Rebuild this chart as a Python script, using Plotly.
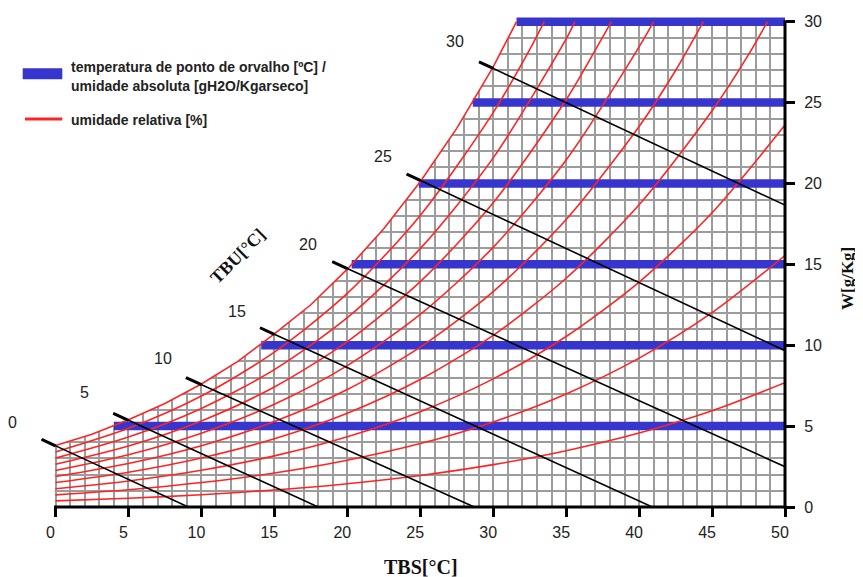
import plotly.graph_objects as go

# ---------------- data ----------------
# saturation curve (100 % relative humidity): dry bulb [°C] -> W [g/kg]
sat_T = [0, 2.5, 5, 7.5, 10, 12.5, 15, 17.5, 20, 22.5, 25, 27.5, 30, 31.6]
sat_W = [3.8, 4.5, 5.4, 6.4, 7.6, 9.0, 10.7, 12.5, 14.7, 17.2, 20.1, 23.4, 27.2, 30.0]

# relative humidity curves (10 % ... 90 %)
rh10_T = [0, 5, 10, 15, 20, 25, 30, 35, 40, 45, 50]
rh10_W = [0.38, 0.54, 0.76, 1.05, 1.44, 1.95, 2.62, 3.48, 4.57, 5.95, 7.68]
rh20_T = [0, 5, 10, 15, 20, 25, 30, 35, 40, 45, 50]
rh20_W = [0.75, 1.07, 1.51, 2.10, 2.89, 3.92, 5.26, 6.99, 9.20, 12.01, 15.54]
rh30_T = [0, 5, 10, 15, 20, 25, 30, 35, 40, 45, 50]
rh30_W = [1.13, 1.61, 2.27, 3.16, 4.34, 5.89, 7.92, 10.54, 13.90, 18.19, 23.61]
rh40_T = [0, 5, 10, 15, 20, 25, 30, 35, 40, 45, 47.5, 48.8]
rh40_W = [1.51, 2.15, 3.03, 4.22, 5.80, 7.88, 10.61, 14.14, 18.68, 24.49, 27.96, 30.0]
rh50_T = [0, 5, 10, 15, 20, 25, 30, 35, 40, 42.5, 44.4]
rh50_W = [1.88, 2.69, 3.79, 5.28, 7.26, 9.88, 13.31, 17.77, 23.52, 26.98, 30.0]
rh60_T = [0, 5, 10, 15, 20, 25, 30, 35, 40, 41.0]
rh60_W = [2.26, 3.23, 4.56, 6.35, 8.74, 11.90, 16.05, 21.45, 28.44, 30.0]
rh70_T = [0, 5, 10, 15, 20, 25, 30, 35, 37.5, 38.1]
rh70_W = [2.64, 3.77, 5.32, 7.42, 10.22, 13.93, 18.80, 25.17, 29.04, 30.0]
rh80_T = [0, 5, 10, 15, 20, 25, 30, 35, 35.6]
rh80_W = [3.02, 4.32, 6.09, 8.49, 11.70, 15.97, 21.58, 28.93, 30.0]
rh90_T = [0, 5, 10, 15, 20, 25, 30, 32.5, 33.5]
rh90_W = [3.40, 4.86, 6.86, 9.57, 13.20, 18.02, 24.38, 28.27, 30.0]

# absolute humidity lines (dew point -> 50 °C)
abs_W = [5, 10, 15, 20, 25, 30]
dew_T = [4.0, 14.1, 20.3, 24.9, 28.6, 31.6]

# wet bulb lines (TBU)
tbu_vals = [0, 5, 10, 15, 20, 25, 30]
tbu_start_T = [-0.95, 3.96, 8.94, 14.02, 18.97, 24.07, 29.03]
tbu_start_W = [4.18, 5.79, 7.99, 11.08, 15.16, 20.58, 27.52]
tbu_end_T = [9.1, 18.0, 28.7, 40.9, 50.0, 50.0, 50.0]
tbu_end_W = [0.0, 0.0, 0.0, 0.0, 2.49, 9.66, 18.66]
tbu_label_T = [-2.92, 2.02, 7.38, 12.46, 17.28, 22.42, 27.38]
tbu_label_W = [5.25, 7.05, 9.19, 12.11, 16.24, 21.65, 28.76]

x_ticks = [0, 5, 10, 15, 20, 25, 30, 35, 40, 45, 50]
y_ticks = [0, 5, 10, 15, 20, 25, 30]

# ---------------- layout geometry ----------------
OFF = 8                      # page offset of the figure (body margin)
W_FIG, H_FIG = 863 - OFF, 577 - OFF
ML, MR, MT, MB = 0, 78, 2, 70
PW = W_FIG - ML - MR
PH = H_FIG - MT - MB
XMIN, XMAX = -3.256, 50
YMIN, YMAX = 0, 30.72

RED = "#FF2424"
BLUE = "#3636CF"
GRID = "#9C9C9C"
FONT = "Liberation Sans, Arial, sans-serif"
SERIF = "Liberation Serif, Times New Roman, serif"


def px_x(px):
    return (px - OFF - ML) / PW


def px_y(py):
    return (MT + PH - (py - OFF)) / PH


def dx(T):
    return (T - XMIN) / (XMAX - XMIN)


def dy(W):
    return (W - YMIN) / (YMAX - YMIN)


fig = go.Figure()

# white mask hiding the grid above the saturation curve / outside the chart area
mask_x = [XMIN - 1, -0.06, -0.06] + sat_T + [51, 51, XMIN - 1]
mask_y = [-1, -1, sat_W[0]] + sat_W + [30.0, 40, 40]
fig.add_trace(go.Scatter(x=mask_x, y=mask_y, fill="toself", fillcolor="white",
                         mode="lines", line=dict(width=0, color="white"),
                         hoverinfo="skip", showlegend=False))

# absolute humidity / dew point bars
for w, t in zip(abs_W, dew_T):
    fig.add_trace(go.Scatter(x=[t, 50], y=[w, w], mode="lines",
                             line=dict(color=BLUE, width=8.5),
                             hoverinfo="skip", showlegend=False))

# relative humidity curves
rh_curves = [(rh10_T, rh10_W), (rh20_T, rh20_W), (rh30_T, rh30_W),
             (rh40_T, rh40_W), (rh50_T, rh50_W), (rh60_T, rh60_W),
             (rh70_T, rh70_W), (rh80_T, rh80_W), (rh90_T, rh90_W)]
for ts, ws in rh_curves:
    fig.add_trace(go.Scatter(x=ts, y=ws, mode="lines",
                             line=dict(color=RED, width=1.6, shape="spline", smoothing=0.8),
                             hoverinfo="skip", showlegend=False))
fig.add_trace(go.Scatter(x=sat_T, y=sat_W, mode="lines",
                         line=dict(color=RED, width=1.6),
                         hoverinfo="skip", showlegend=False))

# wet bulb lines
for v, ts, ws, te, we in zip(tbu_vals, tbu_start_T, tbu_start_W, tbu_end_T, tbu_end_W):
    fig.add_trace(go.Scatter(x=[ts, te], y=[ws, we], mode="lines",
                             line=dict(color="black", width=1.6),
                             hoverinfo="skip", showlegend=False))
    w_sat = ws + (v - ts) * (we - ws) / (te - ts)
    fig.add_trace(go.Scatter(x=[ts, v], y=[ws, w_sat], mode="lines",
                             line=dict(color="black", width=3),
                             hoverinfo="skip", showlegend=False))

annotations = []
for v, lt, lw in zip(tbu_vals, tbu_label_T, tbu_label_W):
    annotations.append(dict(x=lt, y=lw, xref="x", yref="y", text=str(v), showarrow=False,
                            xanchor="center", yanchor="middle",
                            font=dict(family=FONT, size=16, color="#222222")))

# axis titles
annotations.append(dict(x=px_x(420.5), y=px_y(567), xref="paper", yref="paper",
                        text="<b>TBS[°C]</b>", showarrow=False,
                        xanchor="center", yanchor="middle",
                        font=dict(family=SERIF, size=20, color="#111111")))
annotations.append(dict(x=px_x(847), y=px_y(278), xref="paper", yref="paper",
                        text="<b>W[g/Kg]</b>", showarrow=False, textangle=-90,
                        xanchor="center", yanchor="middle",
                        font=dict(family=SERIF, size=17, color="#111111")))
annotations.append(dict(x=px_x(237.7), y=px_y(255.7), xref="paper", yref="paper",
                        text="<b>TBU[°C]</b>", showarrow=False, textangle=-45,
                        xanchor="center", yanchor="middle",
                        font=dict(family=SERIF, size=18, color="#111111")))

# legend text
leg_font = dict(family=FONT, size=14, color="#222222")
for txt, yy in [("<b>temperatura de ponto de orvalho [ºC] /</b>", 66.5),
                ("<b>umidade absoluta [gH2O/Kgarseco]</b>", 86.0),
                ("<b>umidade relativa [%]</b>", 119.5)]:
    annotations.append(dict(x=px_x(69), y=px_y(yy), xref="paper", yref="paper",
                            xanchor="left", yanchor="middle",
                            text=txt, showarrow=False, font=leg_font))

shapes = [
    # legend samples
    dict(type="line", xref="paper", yref="paper", x0=px_x(22.7), x1=px_x(62.3),
         y0=px_y(73.8), y1=px_y(73.8), line=dict(color=BLUE, width=11)),
    dict(type="line", xref="paper", yref="paper", x0=px_x(25), x1=px_x(62.3),
         y0=px_y(119), y1=px_y(119), line=dict(color=RED, width=3)),
    # axis lines
    dict(type="line", xref="paper", yref="paper", x0=dx(0) - 1.5 / PW, x1=1 + 1.5 / PW,
         y0=0, y1=0, line=dict(color="black", width=3)),
    dict(type="line", xref="paper", yref="paper", x0=1, x1=1,
         y0=-1.5 / PH, y1=dy(30) + 1.5 / PH, line=dict(color="black", width=3)),
]

fig.update_layout(
    width=W_FIG, height=H_FIG, autosize=False,
    margin=dict(l=ML, r=MR, t=MT, b=MB, pad=0),
    paper_bgcolor="white", plot_bgcolor="white",
    showlegend=False,
    annotations=annotations, shapes=shapes,
    xaxis=dict(range=[XMIN, XMAX], tickvals=x_ticks, ticktext=[str(v) for v in x_ticks],
               ticks="outside", ticklen=9, tickwidth=3, tickcolor="black",
               showline=False, zeroline=False,
               showgrid=True, gridcolor=GRID, gridwidth=1.5,
               minor=dict(dtick=1, tick0=0, showgrid=True, gridcolor=GRID, gridwidth=1.5, ticks=""),
               tickfont=dict(family=FONT, size=16, color="#222222"),
               ticklabelshift=-5, ticklabelstandoff=2, fixedrange=True),
    yaxis=dict(range=[YMIN, YMAX], side="right", tickvals=y_ticks,
               ticktext=[str(v) for v in y_ticks],
               ticks="outside", ticklen=9, tickwidth=3, tickcolor="black",
               showline=False, zeroline=False,
               showgrid=True, gridcolor=GRID, gridwidth=1.5,
               minor=dict(dtick=1, tick0=0, showgrid=True, gridcolor=GRID, gridwidth=1.5, ticks=""),
               tickfont=dict(family=FONT, size=16, color="#222222"),
               ticklabelstandoff=6, fixedrange=True),
)

fig.write_html("out.html")
